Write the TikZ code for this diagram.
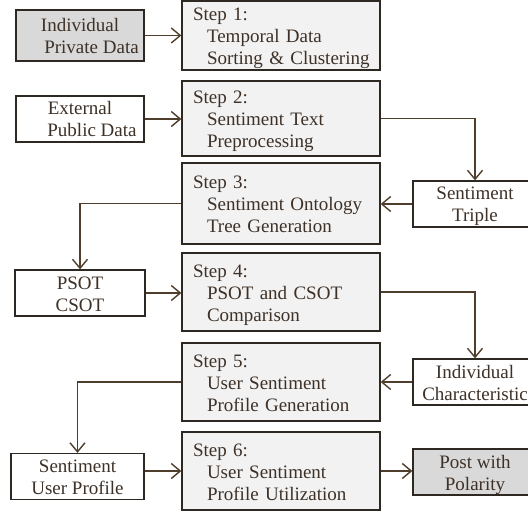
\documentclass[tikz,border=0pt]{standalone}
\usepackage{fontspec}
\setmainfont{Liberation Serif}
\usetikzlibrary{arrows.meta}
\definecolor{txtc}{RGB}{61,49,40}
\definecolor{edgec}{RGB}{46,40,34}
\definecolor{linkc}{RGB}{79,62,44}
\definecolor{stepfill}{RGB}{242,242,242}
\definecolor{grayfill}{RGB}{217,217,217}
\newcommand{\tstr}{\rule{0pt}{19pt}}
\newcommand{\bstr}{\rule[-5pt]{0pt}{5pt}}
\tikzset{
  every node/.style={font=\fontsize{19}{22}\selectfont, text=txtc},
  box/.style={rectangle, draw=edgec, line width=1.3pt, inner sep=0pt, align=center},
  stepbox/.style={box, fill=stepfill, minimum width=198pt, text width=176pt, align=left},
  link/.style={draw=linkc, line width=1.4pt, -{Straight Barb[length=9pt,width=15pt,line width=1.4pt]}},
}
\newcommand{\ind}[1]{\hspace*{14pt}\mbox{#1}}
\begin{document}
\begin{tikzpicture}[x=1pt,y=-1pt]
\useasboundingbox (0,0) rectangle (528,516);
\clip (0,0) rectangle (528,516);
\fill[white] (0,0) rectangle (528,516);
% step boxes
\node[stepbox, minimum height=69pt] (s1) at (281,35.5) {\tstr Step 1:\\\ind{Temporal Data}\\\ind{Sorting \& Clustering}\bstr};
\node[stepbox, minimum height=75pt] (s2) at (281,118.5) {\tstr Step 2:\\\ind{Sentiment Text}\\\ind{Preprocessing}\bstr};
\node[stepbox, minimum height=81pt] (s3) at (281,203.5) {\tstr Step 3:\\\ind{Sentiment Ontology}\\\ind{Tree Generation}\bstr};
\node[stepbox, minimum height=78pt] (s4) at (281,292) {\tstr Step 4:\\\ind{PSOT and CSOT}\\\ind{Comparison}\bstr};
\node[stepbox, minimum height=78pt] (s5) at (281,382) {\tstr Step 5:\\\ind{User Sentiment}\\\ind{Profile Generation}\bstr};
\node[stepbox, minimum height=78pt] (s6) at (281,471) {\tstr Step 6:\\\ind{User Sentiment}\\\ind{Profile Utilization}\bstr};
% left boxes
\node[box, fill=grayfill, minimum width=128pt, minimum height=51pt] (ipd) at (80,35.5) {\tstr Individual\\\hspace*{23pt}Private Data\bstr};
\node[box, fill=white, minimum width=128pt, minimum height=46pt] (ext) at (80,119) {\tstr External\\\hspace*{24pt}Public Data\bstr};
\node[box, fill=white, minimum width=130pt, minimum height=40pt] (psot) at (80,293) {\tstr PSOT\\CSOT\bstr};
\node[box, fill=white, minimum width=133pt, minimum height=41pt] (sup) at (77.5,476.5) {\tstr Sentiment\\User Profile\bstr};
% right boxes
\node[box, fill=white, minimum width=124pt, minimum height=40pt] (tri) at (475,204) {\tstr Sentiment\\Triple\bstr};
\node[box, fill=white, minimum width=124pt, minimum height=40pt] (ic) at (475,382) {\tstr Individual\\Characteristic\bstr};
\node[box, fill=grayfill, minimum width=124pt, minimum height=40pt] (post) at (475,472) {\tstr Post with\\Polarity\bstr};
% connectors
\draw[link] (ipd.east) -- (ipd.east -| s1.west);
\draw[link] (ext.east) -- (ext.east -| s2.west);
\draw[link] (s2.east) -| (tri.north);
\draw[link] (tri.west) -- (tri.west -| s3.east);
\draw[link] (s3.west) -| (psot.north);
\draw[link] (psot.east) -- (psot.east -| s4.west);
\draw[link] (s4.east) -| (ic.north);
\draw[link] (ic.west) -- (ic.west -| s5.east);
\draw[link] (s5.west) -| (sup.north);
\draw[link] (s6.west -| sup.east) -- (s6.west);
\draw[link] (s6.east) -- (s6.east -| post.west);
\end{tikzpicture}
\end{document}
